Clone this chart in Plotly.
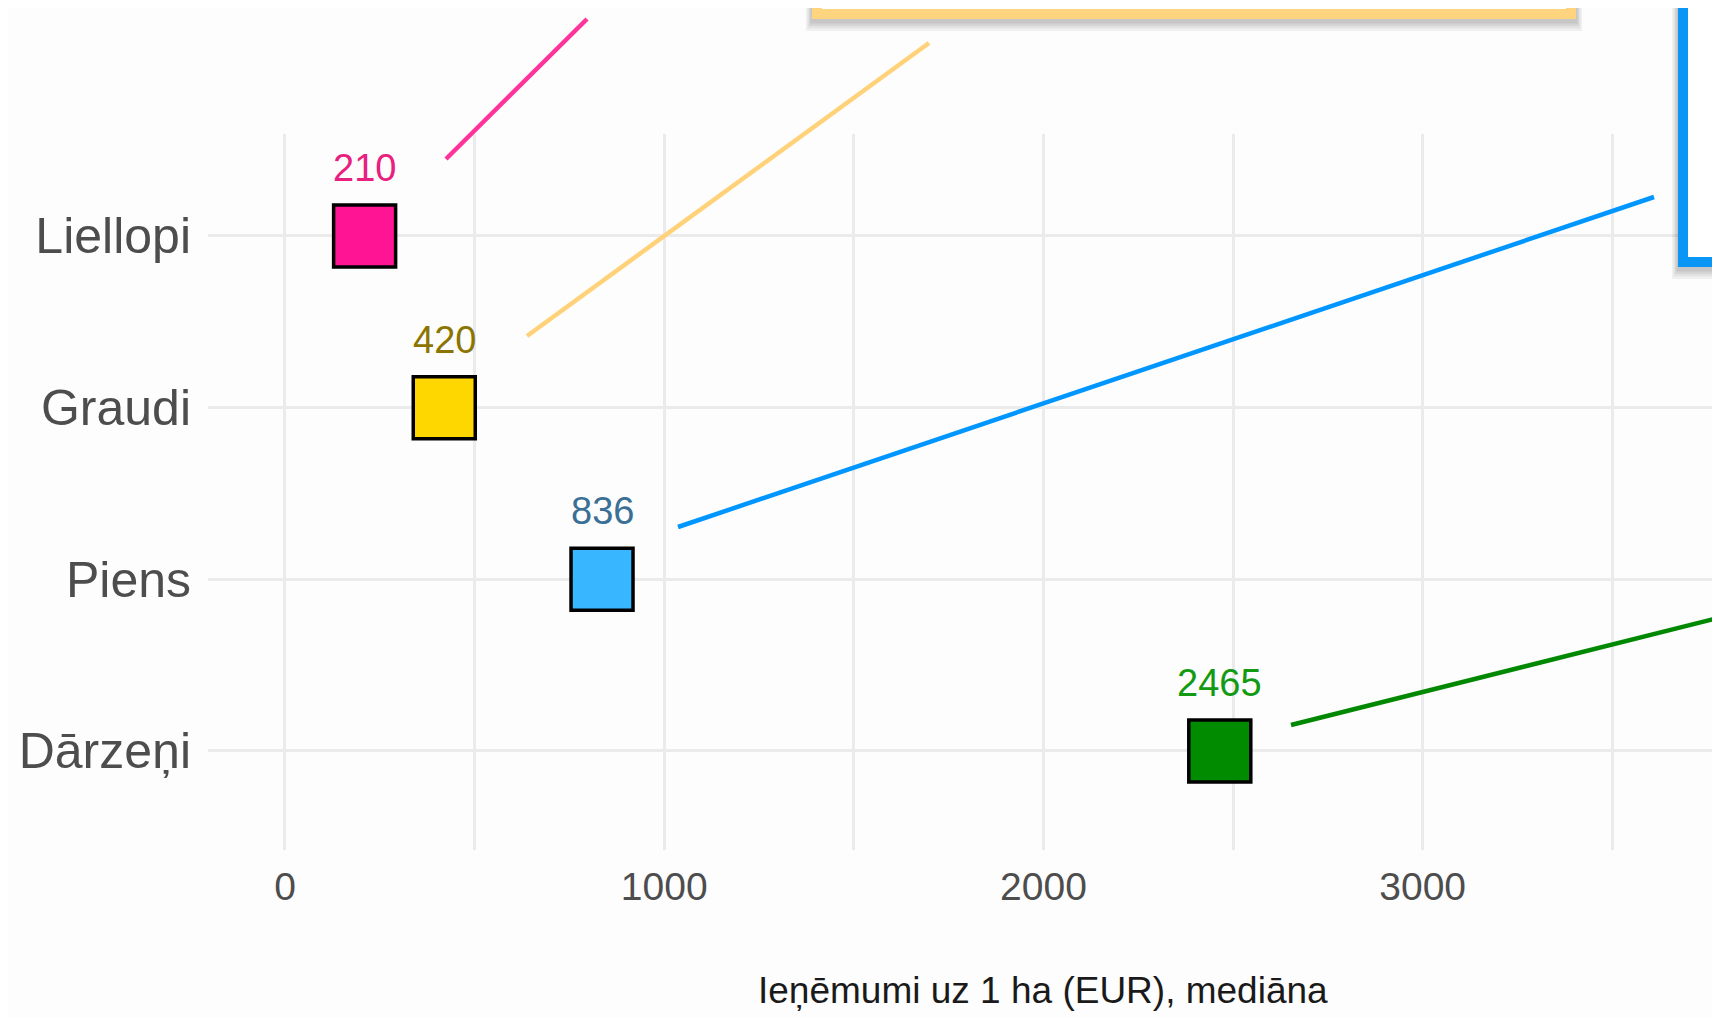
"""Ieņēmumi uz 1 ha pēc saimniecības tipa — dot chart with callout leader lines."""

import plotly.graph_objects as go

# data
categories = ["Liellopi", "Graudi", "Piens", "Dārzeņi"]
values = [210, 420, 836, 2465]
fill_colors = ["#FF1493", "#FFD700", "#38B6FF", "#008B00"]
label_colors = ["#E8207F", "#8B7500", "#3A6F96", "#139A13"]
x_ticks = [0, 1000, 2000, 3000]
x_title = "Ieņēmumi uz 1 ha (EUR), mediāna"

# page body has an 8px margin, so the figure is drawn 8px in from the corner
OFF = 8
W, H = 1720 - OFF, 1017 - OFF
L, R, T, B = 200, 0, 126, 167
SANS = "Liberation Sans, Arial, sans-serif"


def px(x, y):
    """Pixel position on the page -> paper coords of the plot area."""
    return (x - OFF - L) / (W - L - R), (H - B - (y - OFF)) / (H - T - B)


fig = go.Figure()
fig.add_trace(go.Scatter(
    x=values, y=categories, mode="markers",
    marker=dict(symbol="square", size=62, color=fill_colors,
                line=dict(color="black", width=3.5)),
    hoverinfo="skip", showlegend=False,
))

for cat, val, col in zip(categories, values, label_colors):
    fig.add_annotation(x=val, y=cat, text=str(val), showarrow=False, yshift=68,
                       font=dict(family=SANS, size=38, color=col))

# leader lines towards the callout boxes (boxes are mostly out of frame)
leaders = [
    ((446, 159), (587, 19), "#FF3399"),
    ((527, 336), (929, 43), "#FFD27A"),
    ((678, 527), (1654, 197), "#0096FF"),
    ((1291, 725), (1770, 605), "#008800"),
]
for (xa, ya), (xb, yb), col in leaders:
    x0, y0 = px(xa, ya)
    x1, y1 = px(xb, yb)
    fig.add_shape(type="line", xref="paper", yref="paper", x0=x0, y0=y0, x1=x1, y1=y1,
                  line=dict(color=col, width=4.5), layer="above")


def box(x0, y0, x1, y1, color):
    # soft drop shadow, then the framed box
    for i, op in enumerate([0.05, 0.05, 0.06, 0.07]):
        d = 10 - i * 2.5
        a0, b0 = px(x0 - d * 0.6, y0 - 2)
        a1, b1 = px(x1 + d * 0.6, y1 + d + 2)
        fig.add_shape(type="rect", xref="paper", yref="paper", x0=a0, y0=b0, x1=a1, y1=b1,
                      fillcolor=f"rgba(0,0,0,{op})", line=dict(width=0), layer="above")
    a0, b0 = px(x0 + 5, y0)
    a1, b1 = px(x1 - 5, y1 - 5)
    fig.add_shape(type="rect", xref="paper", yref="paper", x0=a0, y0=b0, x1=a1, y1=b1,
                  fillcolor="white", line=dict(color=color, width=10), layer="above")


box(812, -60, 1576, 19, "#FFD47E")
box(1678, -60, 1800, 267, "#0A96F5")

fig.add_annotation(xref="paper", yref="paper", x=px(1711, 0)[0], y=px(0, 15)[1],
                   xanchor="left", yanchor="bottom", text="a", showarrow=False,
                   font=dict(family=SANS, size=30, color="black"))

fig.add_annotation(x=2000, xref="x", yref="paper", y=px(0, 990)[1], yanchor="middle",
                   text=x_title, showarrow=False,
                   font=dict(family=SANS, size=37, color="#1A1A1A"))

fig.update_xaxes(
    range=[-203, 3784], tickvals=x_ticks, ticktext=[str(t) for t in x_ticks],
    showgrid=True, gridcolor="#EBEBEB", gridwidth=2.5, zeroline=False,
    minor=dict(dtick=500, tick0=0, showgrid=True, gridcolor="#EBEBEB", gridwidth=2.5),
    showline=False, ticks="", ticklabelstandoff=10,
    tickfont=dict(family=SANS, size=39, color="#4D4D4D"),
)
fig.update_yaxes(
    type="category", categoryorder="array", categoryarray=categories[::-1],
    range=[-0.577, 3.594], showgrid=True, gridcolor="#EBEBEB", gridwidth=3,
    zeroline=False, showline=False, ticks="", ticklabelstandoff=16,
    tickfont=dict(family=SANS, size=50, color="#4D4D4D"),
)
fig.update_layout(
    width=W, height=H, margin=dict(l=L, r=R, t=T, b=B, autoexpand=False),
    paper_bgcolor="#FDFDFD", plot_bgcolor="#FDFDFD", showlegend=False,
)

fig.write_html("out.html")
